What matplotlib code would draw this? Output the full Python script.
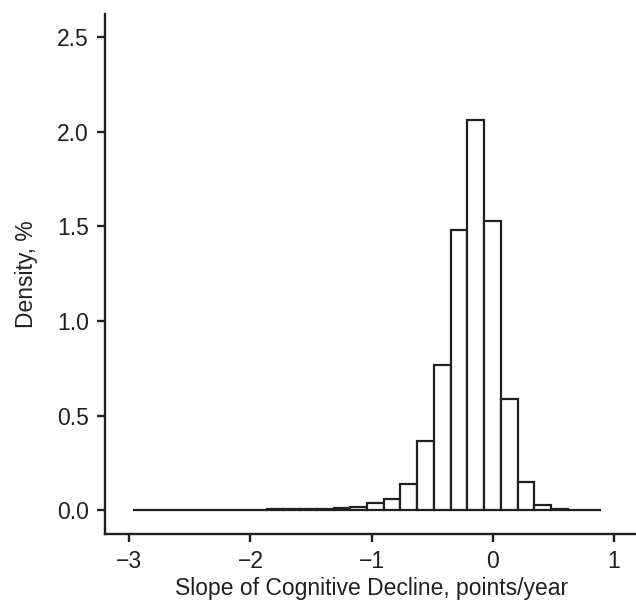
import numpy as np
import matplotlib
matplotlib.use("Agg")
import matplotlib.pyplot as plt

plt.rcParams['font.family'] = ['Liberation Sans', 'DejaVu Sans']

# histogram of slopes (density, %)
bin_start = -2.97
bin_width = 0.138
density = [0.002, 0.002, 0.002, 0.002, 0.002, 0.002, 0.003, 0.003,
           0.004, 0.005, 0.007, 0.009, 0.014, 0.019, 0.036, 0.058,
           0.137, 0.368, 0.768, 1.481, 2.063, 1.531, 0.588, 0.151,
           0.028, 0.004, 0.003, 0.003]
edges = bin_start + bin_width * np.arange(len(density) + 1)

x_ticks = [-3, -2, -1, 0, 1]
x_labels = ["\u22123", "\u22122", "\u22121", "0", "1"]
y_ticks = [0.0, 0.5, 1.0, 1.5, 2.0, 2.5]
y_labels = ["0.0", "0.5", "1.0", "1.5", "2.0", "2.5"]

ink = '#231f20'

fig = plt.figure(figsize=(6.36, 6.01), dpi=100)
ax = fig.add_axes([0.1651, 0.1123, 0.8385, 0.8636])

ax.bar(edges[:-1], density, width=bin_width, align='edge',
       facecolor='white', edgecolor=ink, linewidth=1.6)

ax.set_xlim(-3.2, 1.2)
ax.set_ylim(-0.123, 2.62)

ax.spines['top'].set_visible(False)
ax.spines['right'].set_visible(False)
for s in ['left', 'bottom']:
    ax.spines[s].set_linewidth(1.7)
    ax.spines[s].set_color(ink)

ax.set_xticks(x_ticks)
ax.set_xticklabels(x_labels)
ax.set_yticks(y_ticks)
ax.set_yticklabels(y_labels)
ax.tick_params(direction='out', length=6, width=1.7, color=ink,
               labelsize=16.5, labelcolor=ink, pad=5.5)
ax.tick_params(axis='x', pad=6)

ax.set_xlabel("Slope of Cognitive Decline, points/year", fontsize=16.5, color=ink, labelpad=3)
ax.set_ylabel("Density, %", fontsize=16.5, color=ink, labelpad=14)

fig.savefig("out.png", dpi=100)
